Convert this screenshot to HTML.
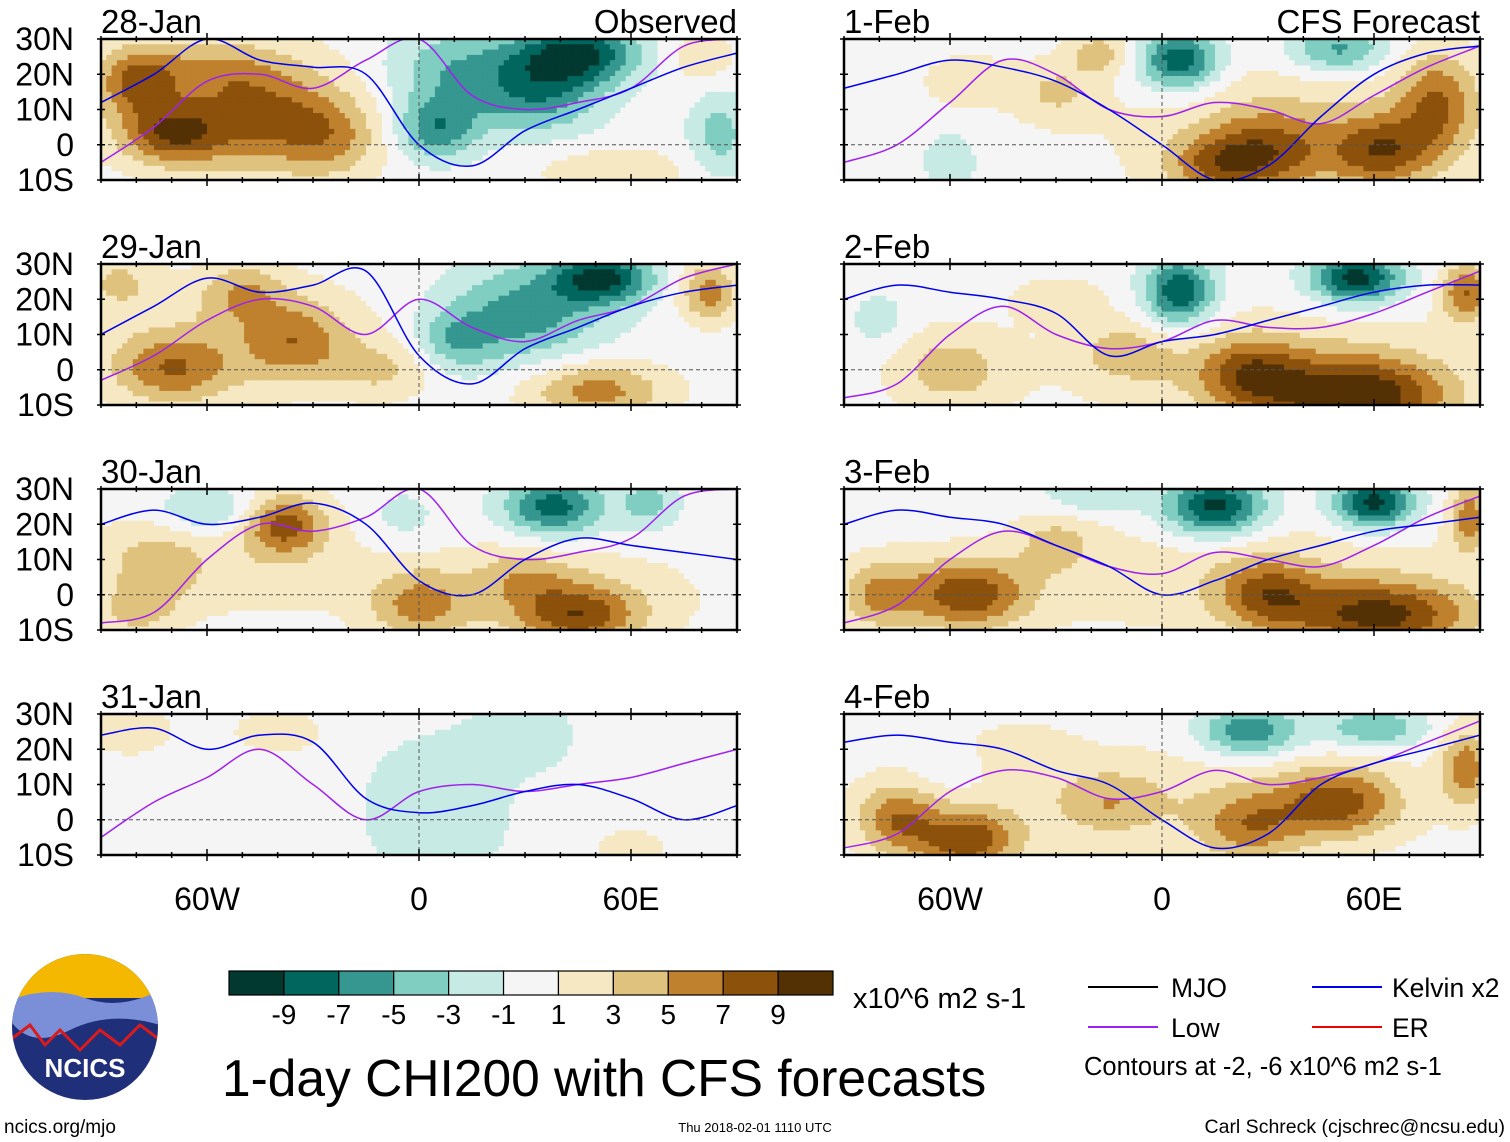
<!DOCTYPE html>
<html><head><meta charset="utf-8">
<style>
body{margin:0;background:#fff;width:1510px;height:1142px;overflow:hidden;font-family:"Liberation Sans",sans-serif;}
svg{position:absolute;left:0;top:0}
text{font-family:"Liberation Sans",sans-serif;fill:#000}
</style></head>
<body>
<svg id="chart" width="1510" height="1142" viewBox="0 0 1510 1142"></svg>
<script>
// ---- data ----
const panelTitles = ["28-Jan","29-Jan","30-Jan","31-Jan","1-Feb","2-Feb","3-Feb","4-Feb"];
const latTickLabels = ["30N","20N","10N","0","10S"];
const latTicks = [30,20,10,0,-10];
const lonTickLabels = ["60W","0","60E"];
const lonTicks = [-60,0,60];
const levelLabels = ["-9","-7","-5","-3","-1","1","3","5","7","9"];
const levels = [-9,-7,-5,-3,-1,1,3,5,7,9];
const palette = ["#01382f","#01665e","#35978f","#80cdc1","#c7eae5","#f5f5f5","#f6e8c3","#dfc27d","#bf812d","#8c510a","#543005"];
// anomaly centres per panel: [lon, lat, amplitude, sigmaLon, sigmaLat]
const blobs0 = [[-50,10,2.5,30,14],[-80,18,6,8,7],[-70,3,7,10,6],[-45,8,5,14,10],[-25,2,4,10,8],[-60,22,3,14,6],[10,20,-5,14,10],[45,26,-9,12,6],[35,15,-6,12,8],[5,4,-6,8,6],[85,3,-4,6,8],[80,25,3,6,5],[55,-8,3,14,5]];
const blobs1 = [[-50,10,2.2,30,12],[-70,0,6,12,7],[-50,22,4,8,6],[-35,8,5,10,8],[50,-6,6,14,6],[82,22,6,6,6],[-10,0,3,10,6],[30,16,-6,16,10],[52,26,-9,10,5],[10,8,-4,8,6],[-85,25,3,8,6]];
const blobs2 = [[-50,10,2,30,12],[40,0,2.2,30,10],[-38,20,7,8,6],[-75,8,3,10,8],[0,-3,5,10,7],[45,-6,7,12,6],[30,5,3,10,6],[-60,24,-4,10,5],[38,25,-8,10,6],[65,26,-4,6,5],[-5,22,-2,8,6],[-80,-5,3,8,5]];
const blobs3 = [[5,3,-3,14,14],[30,24,-2.5,10,7],[-82,26,3,8,5],[-40,25,2,10,5],[60,-8,2,8,4]];
const blobs4 = [[40,5,2.5,40,15],[30,-2,6,12,8],[62,-2,7,10,7],[78,12,6,8,10],[-30,15,3,8,6],[-18,26,4,6,4],[15,-6,5,10,6],[5,24,-9,8,6],[50,27,-6,10,5],[-60,-5,-3,5,6],[-55,18,2,10,6]];
const blobs5 = [[30,0,2.5,40,12],[55,-8,10,18,8],[25,-1,6,10,7],[86,22,7,5,6],[-60,0,4,12,8],[-10,5,3,10,6],[5,22,-9,7,7],[55,26,-10,9,5],[-80,14,-2,6,6],[-30,20,2,10,5]];
const blobs6 = [[20,5,2.2,50,12],[-55,0,8,12,7],[-80,0,5,8,7],[62,-6,9,18,7],[30,0,6,10,7],[87,22,6,4,7],[-30,15,3,8,6],[15,25,-10,10,6],[60,26,-10,8,5],[-20,28,-3,10,4]];
const blobs7 = [[0,5,2.2,50,12],[-55,-6,8,10,6],[-75,0,6,8,7],[50,5,7,12,7],[25,-2,5,10,7],[86,15,6,5,8],[-15,5,3,10,6],[25,25,-7,10,5],[60,26,-5,10,4],[-60,15,-2,6,4],[-40,20,2,10,5]];
const allBlobs = [blobs0,blobs1,blobs2,blobs3,blobs4,blobs5,blobs6,blobs7];
// contour lines: latitude at each lon in contourLons
const contourLons = [-90,-75,-60,-45,-30,-15,0,15,30,45,60,75,90];
const lowLines = [
 [-5,5,18,20,16,24,30,14,10,12,16,28,30],
 [-3,4,14,20,18,10,20,12,8,14,18,26,30],
 [-8,-5,10,20,18,22,30,14,10,12,16,28,30],
 [-5,5,12,20,10,0,8,10,8,10,12,16,20],
 [-5,0,12,24,20,10,8,12,10,6,14,22,28],
 [-8,-4,10,18,10,6,8,14,12,12,16,22,28],
 [-8,-3,10,18,14,8,6,12,10,8,14,22,28],
 [-8,-4,8,14,12,6,8,14,10,12,16,22,28]];
const kelvinLines = [
 [12,20,30,24,22,20,0,-6,4,10,16,22,26],
 [10,18,26,22,24,28,4,-4,6,12,18,22,24],
 [20,24,20,22,26,20,4,0,10,16,14,12,10],
 [24,26,20,24,22,6,2,4,8,10,6,0,4],
 [16,20,24,22,18,10,0,-10,-6,8,20,26,28],
 [20,24,22,20,16,4,8,10,14,18,22,24,24],
 [20,24,22,20,14,8,0,4,10,14,18,20,22],
 [22,24,22,20,14,10,0,-8,-4,10,16,20,24]];
</script>
<script>
const svg=document.getElementById('chart');
const NS='http://www.w3.org/2000/svg';
function el(tag,attrs,parent){const e=document.createElementNS(NS,tag);for(const k in attrs)e.setAttribute(k,attrs[k]);(parent||svg).appendChild(e);return e;}
const colX=[101,844], rowY=[39,264,489,714];
const PW=636, PH=141;
function xScale(px,lon){return px+(lon+90)*PW/180;}
function yScale(py,lat){return py+(30-lat)*PH/40;}
function field(bl,lon,lat){let v=0;for(const b of bl){const dx=(lon-b[0])/b[3],dy=(lat-b[1])/b[4];v+=b[2]*Math.exp(-(dx*dx+dy*dy)/2);}return v;}
function bin(v){let i=0;while(i<levels.length&&v>=levels[i])i++;return i;}
function smoothPath(pts){let d='M'+pts[0][0].toFixed(1)+','+pts[0][1].toFixed(1);
  for(let i=0;i<pts.length-1;i++){const p0=pts[i-1]||pts[i],p1=pts[i],p2=pts[i+1],p3=pts[i+2]||p2;
    const c1=[p1[0]+(p2[0]-p0[0])/6,p1[1]+(p2[1]-p0[1])/6],c2=[p2[0]-(p3[0]-p1[0])/6,p2[1]-(p3[1]-p1[1])/6];
    d+='C'+c1[0].toFixed(1)+','+c1[1].toFixed(1)+' '+c2[0].toFixed(1)+','+c2[1].toFixed(1)+' '+p2[0].toFixed(1)+','+p2[1].toFixed(1);}
  return d;}
for(let p=0;p<8;p++){
  const px=colX[p<4?0:1], py=rowY[p%4];
  const g=el('g',{},svg);
  
  
  const cp=el('clipPath',{id:'cp'+p},g);
  el('rect',{x:px,y:py,width:PW,height:PH},cp);
  const inner=el('g',{'clip-path':'url(#cp'+p+')'},g);
  const step=1.5;
  for(let lon=-90;lon<90;lon+=step){for(let lat=30;lat>-10;lat-=step){
    const v=field(allBlobs[p],lon+step/2,lat-step/2);
    const r=el('rect',{x:xScale(px,lon).toFixed(2),y:yScale(py,lat).toFixed(2),width:(step*PW/180+0.6).toFixed(2),height:(step*PH/40+0.6).toFixed(2),fill:palette[bin(v)]},inner);
    
    
  }}
  const mk=(arr,col,name)=>{const pts=arr.map((lat,i)=>[xScale(px,contourLons[i]),yScale(py,lat)]);
    const pth=el('path',{d:smoothPath(pts),fill:'none',stroke:col,'stroke-width':1.5,'stroke-linejoin':'round'},inner);
    
    };
  mk(lowLines[p],'#a020f0','low-contour');
  mk(kelvinLines[p],'#0000ee','kelvin-contour');
  el('line',{x1:px,x2:px+PW,y1:yScale(py,0),y2:yScale(py,0),stroke:'#555','stroke-dasharray':'4,3','stroke-width':1},g);
  el('line',{x1:xScale(px,0),x2:xScale(px,0),y1:py,y2:py+PH,stroke:'#555','stroke-dasharray':'4,3','stroke-width':1},g);
  el('rect',{x:px,y:py,width:PW,height:PH,fill:'none',stroke:'#000','stroke-width':2.5},g);
  for(let lon=-90;lon<=90;lon+=10){const x=xScale(px,lon),L=lon%60===0?6:3;
    el('line',{x1:x,x2:x,y1:py-L,y2:py+L,stroke:'#000','stroke-width':1.5},g);
    el('line',{x1:x,x2:x,y1:py+PH-L,y2:py+PH+L,stroke:'#000','stroke-width':1.5},g);}
  for(let lat=-10;lat<=30;lat+=10){const y=yScale(py,lat);
    el('line',{x1:px-4,x2:px+4,y1:y,y2:y,stroke:'#000','stroke-width':1.5},g);
    el('line',{x1:px+PW-4,x2:px+PW+4,y1:y,y2:y,stroke:'#000','stroke-width':1.5},g);}
  const t=el('text',{x:px,y:py-6,'font-size':33},g);t.textContent=panelTitles[p];
  
  if(p%4===0){const tt=el('text',{x:px+PW,y:py-6,'font-size':33,'text-anchor':'end'},g);tt.textContent=p===0?'Observed':'CFS Forecast';
    }
  if(p<4){latTicks.forEach((lat,i)=>{const l=el('text',{x:74,y:yScale(py,lat)+11,'font-size':32,'text-anchor':'end'},g);l.textContent=latTickLabels[i];
    });}
  if(p%4===3){lonTicks.forEach((lon,i)=>{const l=el('text',{x:xScale(px,lon),y:910,'font-size':32,'text-anchor':'middle'},g);l.textContent=lonTickLabels[i];
    });}
}
const cb=el('g',{},svg);

const bw=604/palette.length;
palette.forEach((c,i)=>{const r=el('rect',{x:229+i*bw,y:971,width:bw,height:24,fill:c,stroke:'#000','stroke-width':1.2},cb);
  });
levelLabels.forEach((s,i)=>{const t=el('text',{x:229+(i+1)*bw,y:1024,'font-size':28,'text-anchor':'middle'},cb);t.textContent=s;
  });
</script>
<svg width="1510" height="1142" style="pointer-events:none">
 <text x="853" y="1008" font-size="29">x10^6 m2 s-1</text>
 <text x="222" y="1096" font-size="51.5">1-day CHI200 with CFS forecasts</text>
 <g>
  <line x1="1088" x2="1158" y1="987" y2="987" stroke="#000" stroke-width="2"/>
  <text x="1171" y="997" font-size="26.5">MJO</text>
  <line x1="1312" x2="1382" y1="987" y2="987" stroke="#0000ee" stroke-width="2"/>
  <text x="1392" y="997" font-size="26.5">Kelvin x2</text>
  <line x1="1088" x2="1158" y1="1027" y2="1027" stroke="#a020f0" stroke-width="2"/>
  <text x="1171" y="1037" font-size="26.5">Low</text>
  <line x1="1312" x2="1382" y1="1027" y2="1027" stroke="#ee0000" stroke-width="2"/>
  <text x="1392" y="1037" font-size="26.5">ER</text>
  <text x="1084" y="1075" font-size="25.5">Contours at -2, -6 x10^6 m2 s-1</text>
 </g>
 <g>
  <clipPath id="lc"><circle cx="85" cy="1027" r="73"/></clipPath>
  <g clip-path="url(#lc)">
   <rect x="10" y="953" width="150" height="150" fill="#1f2f7a"/>
   <rect x="10" y="953" width="150" height="45" fill="#f5b800"/>
   <path d="M10,1000 Q50,985 85,998 T160,990 L160,1025 Q110,1010 70,1030 T10,1020Z" fill="#7b8fd8"/>
   <path d="M10,1040 L30,1025 L45,1045 L60,1030 L80,1050 L100,1030 L120,1045 L140,1025 L160,1040" fill="none" stroke="#d81b1b" stroke-width="3"/>
  </g>
  <text x="85" y="1077" font-size="26" font-weight="bold" text-anchor="middle" style="fill:#fff">NCICS</text>
 </g>
 <text x="4" y="1133" font-size="19">ncics.org/mjo</text>
 <text x="755" y="1132" font-size="13" text-anchor="middle">Thu 2018-02-01 1110 UTC</text>
 <text x="1505" y="1133" font-size="19.5" text-anchor="end">Carl Schreck (cjschrec@ncsu.edu)</text>
</svg>
</body></html>
